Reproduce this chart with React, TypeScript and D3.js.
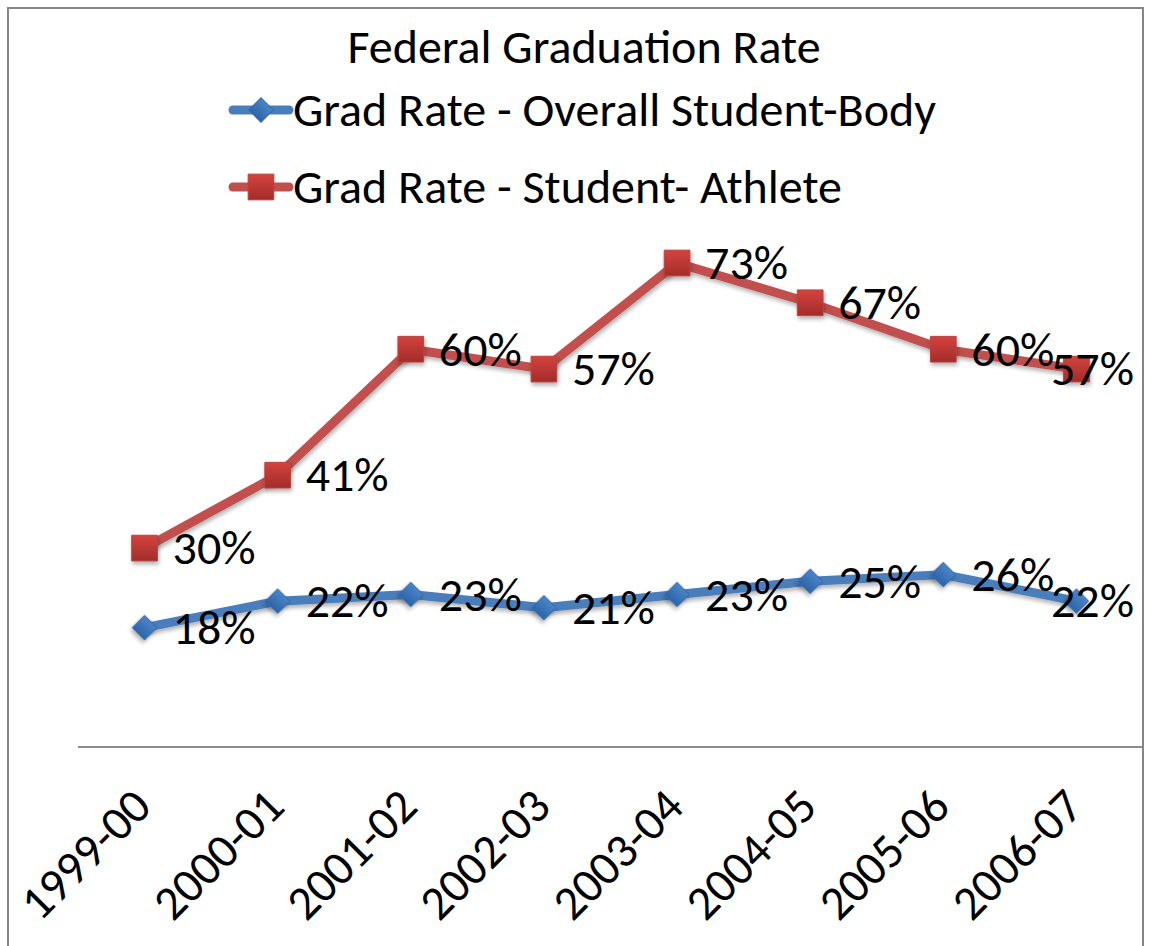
import React, { useEffect, useRef } from 'react';
import * as d3 from 'd3';

const years = ['1999-00', '2000-01', '2001-02', '2002-03', '2003-04', '2004-05', '2005-06', '2006-07'];
const overall = [0.18, 0.22, 0.23, 0.21, 0.23, 0.25, 0.26, 0.22];
const athlete = [0.30, 0.41, 0.60, 0.57, 0.73, 0.67, 0.60, 0.57];
const seriesNames = ['Grad Rate - Overall Student-Body', 'Grad Rate - Student- Athlete'];
const title = 'Federal Graduation Rate';

const W = 1149;
const H = 946;
const FONT = 'Carlito, Calibri, Lato, sans-serif';

export default function App() {
  const svgRef = useRef<SVGSVGElement | null>(null);

  useEffect(() => {
    const svg = d3.select(svgRef.current)
      .attr('width', W)
      .attr('height', H)
      .attr('viewBox', [0, 0, W, H]);
    svg.selectAll('*').remove();

    const plotLeft = 78, plotRight = 1143, plotBottom = 747, plotTop = 84;

    const x = d3.scalePoint<string>().domain(years).range([plotLeft, plotRight]).padding(0.5);
    const y = d3.scaleLinear().domain([0, 1]).range([plotBottom, plotTop]);

    const defs = svg.append('defs');
    const shadow = defs.append('filter').attr('id', 'shadow')
      .attr('x', '-50%').attr('y', '-50%').attr('width', '200%').attr('height', '200%');
    shadow.append('feDropShadow')
      .attr('dx', 1).attr('dy', 3).attr('stdDeviation', 2)
      .attr('flood-color', '#000').attr('flood-opacity', 0.3);

    const gradBlue = defs.append('linearGradient').attr('id', 'gBlue').attr('x1', 0).attr('y1', 0).attr('x2', 0).attr('y2', 1);
    gradBlue.append('stop').attr('offset', '0%').attr('stop-color', '#4a85c8');
    gradBlue.append('stop').attr('offset', '100%').attr('stop-color', '#2d64a8');
    const gradRed = defs.append('linearGradient').attr('id', 'gRed').attr('x1', 0).attr('y1', 0).attr('x2', 0).attr('y2', 1);
    gradRed.append('stop').attr('offset', '0%').attr('stop-color', '#d4433e');
    gradRed.append('stop').attr('offset', '100%').attr('stop-color', '#a32c29');

    // chart border
    svg.append('rect')
      .attr('x', 8).attr('y', 8).attr('width', 1135).attr('height', 960)
      .attr('fill', '#fff').attr('stroke', '#868686').attr('stroke-width', 2);

    // title
    svg.append('text')
      .attr('x', 584).attr('y', 63)
      .attr('text-anchor', 'middle')
      .attr('font-family', FONT).attr('font-size', 48)
      .text(title);

    // axis line
    svg.append('line')
      .attr('x1', plotLeft).attr('x2', plotRight)
      .attr('y1', plotBottom).attr('y2', plotBottom)
      .attr('stroke', '#8c8c8c').attr('stroke-width', 2);

    // x labels
    svg.append('g').selectAll('text')
      .data(years)
      .join('text')
      .attr('transform', d => `translate(${(x(d) ?? 0) + 9},${809}) rotate(-45)`)
      .attr('text-anchor', 'end')
      .attr('font-family', FONT).attr('font-size', 48)
      .text(d => d);

    const series = [
      { name: seriesNames[0], values: overall, line: '#4a7ebb', fill: 'url(#gBlue)', stroke: '#3868a8', shape: 'diamond' },
      { name: seriesNames[1], values: athlete, line: '#c0504d', fill: 'url(#gRed)', stroke: '#b8423f', shape: 'square' },
    ];

    const marker = (shape: string) => shape === 'diamond'
      ? d3.symbol().type(d3.symbolSquare).size(300)()
      : d3.symbol().type(d3.symbolSquare).size(660)();

    const lineGen = d3.line<number>()
      .x((_, i) => x(years[i]) ?? 0)
      .y(d => y(d));

    series.forEach(s => {
      svg.append('path')
        .datum(s.values)
        .attr('fill', 'none')
        .attr('stroke', s.line)
        .attr('stroke-width', 9)
        .attr('stroke-linejoin', 'round')
        .attr('filter', 'url(#shadow)')
        .attr('d', lineGen);

      svg.append('g').selectAll('path')
        .data(s.values)
        .join('path')
        .attr('transform', (d, i) => `translate(${x(years[i])},${y(d)})${s.shape === 'diamond' ? ' rotate(45)' : ''}`)
        .attr('d', marker(s.shape))
        .attr('fill', s.fill)
        .attr('stroke', s.stroke)
        .attr('stroke-width', 1)
        .attr('filter', 'url(#shadow)');
    });

    // data labels
    series.forEach(s => {
      svg.append('g').selectAll('text')
        .data(s.values)
        .join('text')
        .attr('x', (_, i) => (x(years[i]) ?? 0) + 28)
        .attr('y', d => y(d))
        .attr('dy', '0.34em')
        .attr('font-family', FONT).attr('font-size', 48)
        .text(d => `${Math.round(d * 100)}%`)
        .each(function () {
          const t = this as SVGTextElement;
          const w = t.getComputedTextLength();
          const x0 = +t.getAttribute('x')!;
          if (x0 + w > 1134) t.setAttribute('x', String(1134 - w));
        });
    });

    // legend
    const legend = svg.append('g');
    series.forEach((s, i) => {
      const cy = 110 + i * 77;
      legend.append('line')
        .attr('x1', 233).attr('x2', 289).attr('y1', cy).attr('y2', cy)
        .attr('stroke', s.line).attr('stroke-width', 9).attr('stroke-linecap', 'round');
      legend.append('path')
        .attr('transform', `translate(261,${cy})${s.shape === 'diamond' ? ' rotate(45)' : ''}`)
        .attr('d', marker(s.shape))
        .attr('fill', s.fill).attr('stroke', s.stroke).attr('stroke-width', 1);
      legend.append('text')
        .attr('x', 293).attr('y', cy)
        .attr('dy', '0.34em')
        .attr('font-family', FONT).attr('font-size', 48)
        .text(s.name);
    });
  }, []);

  return (
    <svg ref={svgRef} style={{ position: 'absolute', left: 0, top: 0, background: '#fff' }}></svg>
  );
}
